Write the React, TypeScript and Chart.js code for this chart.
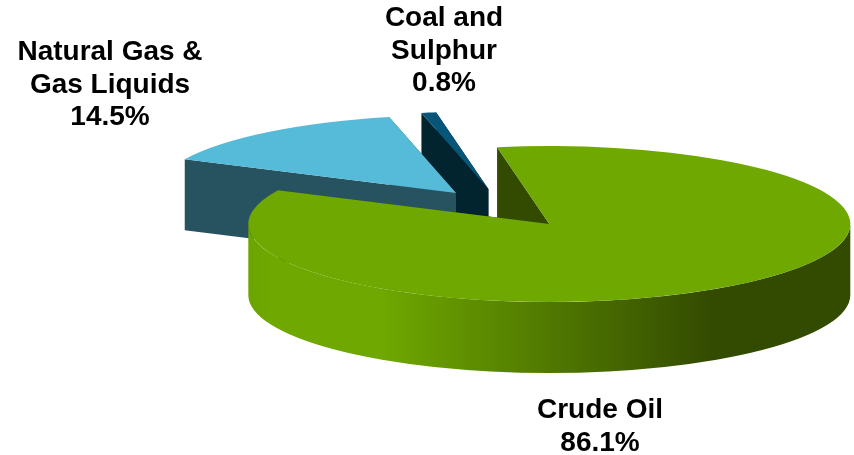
import React, { useEffect, useRef } from "react";
import { Chart, registerables } from "chart.js";

Chart.register(...registerables);

const categories = ["Crude Oil", "Natural Gas & Gas Liquids", "Coal and Sulphur"];
const shares = [86.1, 14.5, 0.8];
const topColors = ["#6fa800", "#55bbd9", "#07567a"];
const sideColors = ["#334b00", "#27525f", "#02242f"];
const explodePx = [76, 76, 76];
const labelLines = [
  ["Crude Oil", "86.1%"],
  ["Natural Gas &", "Gas Liquids", "14.5%"],
  ["Coal and", "Sulphur", "0.8%"],
];
const labelAnchors = [
  { x: 600, y: 418 },
  { x: 110, y: 60 },
  { x: 444, y: 26 },
];

const PIE_X = 503.4;
const PIE_Y = 208.3;
const RADIUS = 301;
const TILT = 0.259;
const DEPTH = 71;
const LINE_HEIGHT = 32.5;

const pie3d = {
  id: "pie3d",
  beforeDatasetDraw(chart: any) {
    const ctx = chart.ctx;
    const meta = chart.getDatasetMeta(0);
    [2, 1, 0].forEach((i) => {
      const el = meta.data[i];
      const start = el.startAngle;
      const end = el.endAngle;
      const mid = (start + end) / 2;
      const cx = PIE_X + explodePx[i] * Math.cos(mid);
      const cy = PIE_Y + explodePx[i] * Math.sin(mid) * TILT;
      const ry = RADIUS * TILT;

      ctx.save();
      ctx.fillStyle = sideColors[i];
      [start, end].forEach((a) => {
        const px = cx + RADIUS * Math.cos(a);
        const py = cy + ry * Math.sin(a);
        ctx.beginPath();
        ctx.moveTo(cx, cy);
        ctx.lineTo(px, py);
        ctx.lineTo(px, py + DEPTH);
        ctx.lineTo(cx, cy + DEPTH);
        ctx.closePath();
        ctx.fill();
      });

      // Only the front half of the rim (0..PI on the canvas) faces the viewer.
      const a0 = Math.max(start, 0);
      const a1 = Math.min(end, Math.PI);
      if (a1 > a0) {
        const g = ctx.createLinearGradient(248, 0, 850, 0);
        g.addColorStop(0, "#6ca400");
        g.addColorStop(0.04, "#6fa800");
        g.addColorStop(0.22, "#6fa800");
        g.addColorStop(0.77, "#334b00");
        g.addColorStop(1, "#334b00");
        ctx.fillStyle = g;
        ctx.beginPath();
        ctx.ellipse(cx, cy, RADIUS, ry, 0, a0, a1);
        ctx.ellipse(cx, cy + DEPTH, RADIUS, ry, 0, a1, a0, true);
        ctx.closePath();
        ctx.fill();
      }
      ctx.restore();

      const s = RADIUS / el.outerRadius;
      ctx.save();
      ctx.translate(cx, cy);
      ctx.scale(s, s * TILT);
      ctx.translate(-el.x, -el.y);
      el.draw(ctx);
      ctx.restore();
    });
    return false;
  },
  afterDraw(chart: any) {
    const ctx = chart.ctx;
    ctx.save();
    ctx.font = 'bold 28px "Liberation Sans", Arial, sans-serif';
    ctx.fillStyle = "#000000";
    ctx.textAlign = "center";
    ctx.textBaseline = "alphabetic";
    labelLines.forEach((lines, i) => {
      lines.forEach((line, j) => {
        ctx.fillText(line, labelAnchors[i].x, labelAnchors[i].y + j * LINE_HEIGHT);
      });
    });
    ctx.restore();
  },
};

export default function App() {
  const ref = useRef<HTMLCanvasElement | null>(null);
  useEffect(() => {
    const chart = new Chart(ref.current as HTMLCanvasElement, {
      type: "pie",
      data: {
        labels: categories,
        datasets: [
          {
            data: shares,
            backgroundColor: topColors,
            borderWidth: 0,
          },
        ],
      },
      options: {
        responsive: false,
        animation: false,
        rotation: -10,
        plugins: { legend: { display: false }, tooltip: { enabled: false } },
      },
      plugins: [pie3d],
    } as any);
    return () => chart.destroy();
  }, []);
  return (
    <canvas
      ref={ref}
      width={854}
      height={455}
      style={{ position: "fixed", left: 0, top: 0, display: "block", background: "#ffffff" }}
    />
  );
}
